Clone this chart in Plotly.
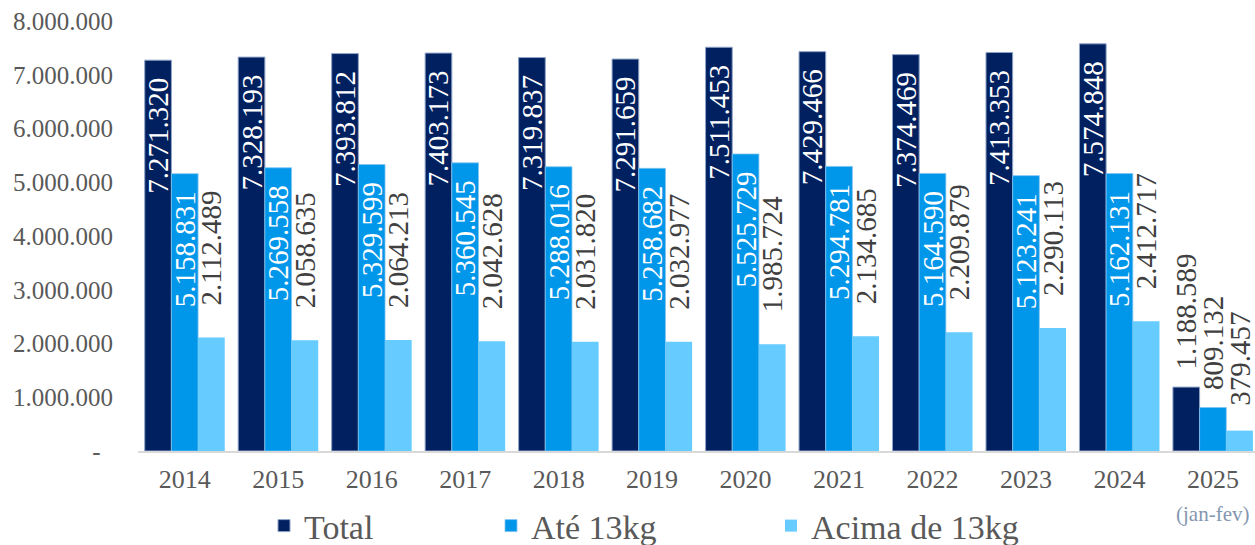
import plotly.graph_objects as go

years = ["2014", "2015", "2016", "2017", "2018", "2019", "2020", "2021", "2022", "2023", "2024", "2025"]
total = [7271320, 7328193, 7393812, 7403173, 7319837, 7291659, 7511453, 7429466, 7374469, 7413353, 7574848, 1188589]
ate13 = [5158831, 5269558, 5329599, 5360545, 5288016, 5258682, 5525729, 5294781, 5164590, 5123241, 5162131, 809132]
acima13 = [2112489, 2058635, 2064213, 2042628, 2031820, 2032977, 1985724, 2134685, 2209879, 2290113, 2412717, 379457]
series_names = ["Total", "Até 13kg", "Acima de 13kg"]
y_tickvals = [0, 1000000, 2000000, 3000000, 4000000, 5000000, 6000000, 7000000, 8000000]
y_ticktext = ["-", "1.000.000", "2.000.000", "3.000.000", "4.000.000", "5.000.000",
              "6.000.000", "7.000.000", "8.000.000"]
note_2025 = "(jan-fev)"

colors = ["#002060", "#0096EA", "#66CCFF"]
edge_colors = ["#8EA3C6", "#7FC4F0", "#66CCFF"]
edge_widths = [1, 0.8, 0]
FONT = "Liberation Serif"
NB = "\u00a0"
PAD_END = '<span style="color:rgba(0,0,0,0)">..</span>'

n = len(years)
last = n - 1

# text positions / templates (styling only)
pos_total = ["inside"] * last + ["outside"]
tmpl_total = ["%{y:,d}" + PAD_END] * last + [NB * 2 + "%{y:,d}"]
pos_ate = ["inside"] * last + ["outside"]
tmpl_ate = ["%{y:,d}" + PAD_END] * last + [NB * 2 + "%{y:,d}"]
pos_acima = ["outside"] * n
tmpl_acima = [NB * 4 + "%{y:,d}"] * last + [NB * 3 + "%{y:,d}"]

legend_ids = ["legend", "legend2", "legend3"]
legend_left_px = [264, 491, 771]

fig = go.Figure()
for k, (name, vals, pos, tmpl) in enumerate([
    (series_names[0], total, pos_total, tmpl_total),
    (series_names[1], ate13, pos_ate, tmpl_ate),
    (series_names[2], acima13, pos_acima, tmpl_acima),
]):
    fig.add_trace(go.Bar(
        x=years, y=vals, name=name, legend=legend_ids[k],
        marker=dict(color=colors[k], line=dict(width=edge_widths[k], color=edge_colors[k])),
        texttemplate=tmpl, textposition=pos, textangle=-90,
        insidetextanchor="end", constraintext="none", cliponaxis=False,
        textfont=dict(family=FONT, size=29, color="#404040"),
        insidetextfont=dict(family=FONT, size=29, color="white"),
        outsidetextfont=dict(family=FONT, size=29, color="#404040"),
        hoverinfo="skip",
    ))

def legend_cfg(xpx):
    return dict(
        orientation="h", xref="container", yref="container",
        x=xpx / 1255, xanchor="left", y=1 - 526 / 545, yanchor="middle",
        font=dict(family=FONT, size=34, color="#595959"),
        bgcolor="rgba(0,0,0,0)", itemclick=False, itemdoubleclick=False,
    )

fig.update_layout(
    width=1255, height=545,
    margin=dict(l=138, r=0, t=21, b=94),
    paper_bgcolor="white", plot_bgcolor="white",
    separators=",.",
    barmode="group", bargap=0.144, bargroupgap=0,
    font=dict(family=FONT, color="#595959"),
    showlegend=True,
    legend=legend_cfg(legend_left_px[0]),
    legend2=legend_cfg(legend_left_px[1]),
    legend3=legend_cfg(legend_left_px[2]),
    xaxis=dict(
        type="category", range=[-0.5, 11.45],
        showline=True, linecolor="#D9D9D9", linewidth=2,
        showgrid=False, zeroline=False, ticks="",
        tickfont=dict(family=FONT, size=26, color="#595959"),
        ticklabelstandoff=4,
    ),
    yaxis=dict(
        range=[0, 8000000], tickmode="array", tickvals=y_tickvals,
        ticktext=[t if t != "-" else "-" + NB * 2 for t in y_ticktext],
        showline=False, showgrid=False, zeroline=False, ticks="",
        tickfont=dict(family=FONT, size=25, color="#595959"),
        ticklabelstandoff=24,
    ),
    annotations=[dict(
        x=last, y=-63 / 430, xref="x", yref="paper",
        text=note_2025, showarrow=False, yanchor="middle", xanchor="center",
        font=dict(family=FONT, size=21, color="#8497B0"),
    )],
)

fig.write_html("out.html")
